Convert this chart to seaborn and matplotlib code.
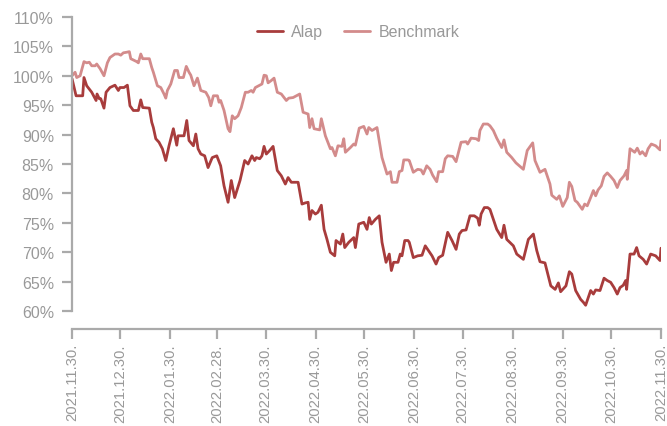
import pandas as pd
import matplotlib
matplotlib.use("Agg")
import matplotlib.pyplot as plt
from matplotlib.ticker import FuncFormatter
import seaborn as sns

# values (percent of start value), x as days since 2021.11.30
alap_days = [0, 2.5, 6.6, 7.4, 9.1, 12.2, 14.9, 15.5, 16.9, 17.8, 19.8, 21.1, 23.5, 26.6,
             28.7, 29.7, 32.2, 34.3, 35.9, 38.0, 41.1, 42.6, 43.8, 47.9, 49.4, 50.4, 51.9,
             53.9, 56.0, 58.1, 60.1, 62.8, 64.9, 65.7, 69.4, 71.1, 72.5, 75.2, 76.7, 78.1,
             79.8, 82.2, 84.3, 86.9, 89.7, 92.1, 94.2, 96.7, 98.7, 100.8, 104.1, 107.0,
             109.1, 111.5, 113.2, 114.2, 116.3, 117.7, 119.0, 120.4, 122.5, 124.6, 127.2,
             129.7, 132.2, 133.9, 135.9, 140.1, 142.5, 144.6, 146.3, 147.3, 148.7, 150.8,
             152.4, 154.5, 156.2, 158.0, 160.1, 162.8, 163.6, 166.3, 167.8, 169.0, 171.5,
             174.6, 175.6, 177.7, 180.8, 182.8, 184.2, 185.5, 188.0, 190.4, 192.1, 194.6,
             196.6, 197.9, 199.3, 202.0, 203.4, 204.5, 206.2, 208.2, 209.0, 211.5, 214.2,
             216.9, 218.9, 220.4, 223.1, 225.6, 227.2, 229.7, 231.8, 232.8, 235.5, 238.0,
             240.0, 241.7, 244.2, 246.6, 249.3, 251.4, 252.4, 253.5, 255.5, 257.6, 259.0,
             260.7, 263.2, 266.3, 267.7, 269.4, 273.5, 275.6, 279.7, 282.8, 285.9, 288.0,
             290.0, 293.1, 296.7, 299.4, 301.4, 302.8, 306.1, 308.2, 309.7, 312.1, 315.2,
             316.9, 318.3, 319.3, 321.4, 323.1, 324.5, 327.2, 329.7, 331.7, 333.8, 335.9,
             337.9, 339.6, 341.6, 343.1, 343.7, 345.8, 348.3, 349.9, 351.4, 354.0, 356.1,
             358.6, 361.7, 364.4, 365]
alap = [99.5, 96.6, 96.6, 99.7, 98.3, 97.2, 95.8, 96.9, 96.1, 96.1, 94.5, 97.2, 98.0, 98.4,
        97.5, 98.0, 98.0, 98.4, 94.9, 94.1, 94.1, 95.9, 94.6, 94.5, 92.1, 91.2, 89.3,
        88.7, 87.6, 85.6, 88.1, 91.0, 88.2, 89.8, 89.8, 92.4, 89.0, 88.1, 90.1, 87.6,
        86.7, 86.4, 84.4, 86.1, 86.4, 84.7, 81.3, 78.5, 82.2, 79.3, 82.2, 85.6,
        85.0, 86.4, 85.6, 86.1, 85.9, 86.4, 88.0, 86.7, 87.3, 88.0, 83.9,
        83.0, 81.6, 82.7, 81.9, 81.9, 78.2, 78.4, 78.5, 75.6, 77.1, 76.5,
        76.8, 78.0, 73.9, 72.2, 70.0, 69.4, 72.0, 71.4, 73.1, 70.8, 71.7,
        72.5, 70.8, 74.8, 75.1, 73.9, 75.9, 74.8, 75.6, 76.2, 71.7, 68.3,
        69.7, 66.9, 68.3, 68.3, 69.7, 69.4, 72.0, 72.0, 71.7, 69.1, 69.4,
        69.5, 71.1, 70.5, 69.4, 68.0, 69.1, 69.5, 72.2, 73.4, 72.0, 70.5,
        73.1, 73.7, 73.8, 76.2, 76.2, 75.8, 74.6, 76.5, 77.6, 77.6, 77.3,
        75.9, 73.9, 72.5, 74.6, 72.2, 71.1, 69.7, 68.8, 72.2, 73.1, 70.3,
        68.4, 68.2, 64.3, 63.7, 64.8, 63.3, 64.3, 66.7, 66.3, 63.5, 62.0,
        61.5, 61.0, 61.8, 63.5, 62.9, 63.6, 63.5, 65.6, 65.2, 64.9, 64.0,
        62.9, 64.0, 64.4, 65.2, 63.7, 69.7, 69.7, 70.8, 69.4, 68.8, 68.0,
        69.7, 69.4, 68.6, 70.7]

bench_days = [0, 1.9, 2.9, 5.0, 7.4, 9.1, 10.7, 12.2, 14.3, 15.3, 17.4, 19.8, 21.9, 23.5,
              26.6, 28.7, 30.2, 31.8, 33.9, 35.5, 36.4, 40.1, 41.1, 42.6, 43.8, 47.9, 49.4,
              50.4, 52.9, 55.0, 57.0, 58.1, 59.1, 61.2, 63.6, 65.3, 66.3, 69.0, 70.8, 72.5,
              73.6, 75.6, 77.7, 79.8, 82.9, 84.7, 86.0, 87.6, 90.1, 91.1, 92.1, 94.2, 96.7,
              97.9, 99.3, 100.8, 102.9, 104.9, 107.4, 109.1, 111.1, 112.2, 113.6, 116.3,
              117.7, 119.0, 120.4, 121.5, 123.5, 125.2, 127.2, 129.7, 132.8, 134.3, 137.0,
              141.1, 143.2, 146.3, 147.3, 148.7, 150.0, 153.5, 154.5, 157.0, 160.1, 161.1,
              163.2, 164.8, 167.3, 168.4, 169.4, 172.5, 174.6, 175.6, 178.0, 180.8, 182.8,
              183.9, 185.9, 189.0, 192.1, 195.2, 197.3, 198.3, 201.4, 202.8, 204.5, 205.6,
              208.2, 209.0, 211.5, 214.2, 216.3, 217.7, 219.8, 221.9, 223.5, 226.0, 227.2,
              229.7, 231.3, 232.8, 235.9, 238.0, 241.1, 244.2, 245.2, 247.3, 250.4, 252.0,
              252.8, 254.9, 257.6, 259.0, 260.3, 261.1, 263.2, 266.3, 267.7, 269.4, 272.5,
              275.1, 279.7, 282.1, 285.5, 286.9, 290.0, 293.1, 296.2, 297.3, 300.4, 302.0,
              304.1, 306.9, 308.2, 309.7, 311.7, 313.1, 316.2, 317.7, 319.3, 321.4, 323.1,
              324.5, 326.0, 328.0, 329.7, 331.7, 333.8, 335.9, 337.9, 339.6, 342.1, 343.7,
              344.1, 345.8, 347.3, 348.7, 350.3, 352.0, 353.4, 355.5, 357.0, 359.0, 361.7,
              364.4, 365]
benchmark = [100.0, 100.6, 99.7, 100.0, 102.4, 102.2, 102.3, 101.7, 101.7, 102.0, 101.2, 100.0, 102.2, 103.1,
             103.7, 103.7, 103.5, 103.9, 104.0, 104.1, 102.9, 102.4, 102.2, 103.7, 102.9, 102.9, 101.4,
             100.6, 98.3, 98.0, 96.9, 96.2, 97.5, 98.6, 100.9, 100.9, 99.7, 99.7, 101.6, 100.6,
             100.1, 98.3, 99.6, 97.5, 97.2, 96.3, 94.9, 96.6, 96.6, 95.5, 95.8, 94.1, 91.0,
             90.5, 93.2, 92.7, 93.2, 94.6, 97.2, 97.2, 97.5, 97.2, 98.0, 98.4,
             98.6, 100.1, 100.0, 98.8, 99.2, 99.6, 97.2, 96.9, 95.8, 96.2, 96.3,
             96.9, 93.8, 93.5, 91.2, 92.7, 91.0, 90.8, 92.7, 89.8, 87.6, 87.8,
             86.4, 88.1, 88.0, 89.3, 87.0, 87.8, 88.4, 88.2, 91.1, 91.4, 90.1,
             91.2, 90.7, 91.2, 86.1, 83.3, 83.7, 81.9, 81.9, 83.7, 83.9, 85.7,
             85.7, 85.6, 83.6, 84.1, 84.0, 83.3, 84.7, 84.1, 83.1, 82.0, 83.7,
             83.7, 85.9, 86.4, 86.3, 85.4, 88.7, 88.8, 88.4, 89.4, 89.3, 89.0,
             90.7, 91.8, 91.8, 91.5, 91.0, 90.7, 89.4, 87.8, 89.1, 87.0, 86.1,
             85.2, 84.1, 87.3, 88.6, 85.6, 83.6, 84.1, 81.6, 79.7, 79.0, 79.6,
             77.8, 79.3, 81.9, 81.2, 78.8, 78.5, 77.3, 78.2, 77.9, 79.3, 80.5,
             79.6, 80.6, 81.3, 82.9, 83.5, 82.9, 82.2, 81.0, 82.2, 83.0, 83.9,
             82.4, 87.6, 87.3, 87.0, 87.7, 86.7, 87.1, 86.4, 87.6, 88.4, 88.1,
             87.4, 89.0]

tick_labels = ["2021.11.30.", "2021.12.30.", "2022.01.30.", "2022.02.28.", "2022.03.30.",
               "2022.04.30.", "2022.05.30.", "2022.06.30.", "2022.07.30.", "2022.08.30.",
               "2022.09.30.", "2022.10.30.", "2022.11.30."]

start = pd.Timestamp("2021-11-30")
df = pd.concat([
    pd.DataFrame({"date": start + pd.to_timedelta(alap_days, unit="D"), "value": alap, "series": "Alap"}),
    pd.DataFrame({"date": start + pd.to_timedelta(bench_days, unit="D"), "value": benchmark, "series": "Benchmark"}),
])

sns.set_style("white")
plt.rcParams["font.family"] = ["Liberation Sans", "DejaVu Sans"]

grey = "#aaaaaa"
text_grey = "#999999"
colors = {"Alap": "#a83c3c", "Benchmark": "#d38b8b"}

fig = plt.figure(figsize=(6.67, 4.27), dpi=100)
ax = fig.add_axes([0.108, 0.269, 0.883, 0.689])
sns.lineplot(data=df, x="date", y="value", hue="series", palette=colors,
             linewidth=2.0, ax=ax, estimator=None, sort=False)

ax.set_ylim(60, 110)
ax.set_yticks(range(60, 111, 5))
ax.yaxis.set_major_formatter(FuncFormatter(lambda v, _: f"{v:.0f}%"))

tick_dates = pd.to_datetime(tick_labels, format="%Y.%m.%d.")
ax.set_xlim(tick_dates[0], tick_dates[-1])
ax.set_xticks(tick_dates)
ax.set_xticklabels(tick_labels)

ax.set_xlabel("")
ax.set_ylabel("")

for side in ["top", "right"]:
    ax.spines[side].set_visible(False)
for side in ["left", "bottom"]:
    ax.spines[side].set_visible(True)
    ax.spines[side].set_color(grey)
    ax.spines[side].set_linewidth(1.6)
ax.spines["bottom"].set_position(("outward", 13))

ax.tick_params(axis="both", bottom=True, left=True, colors=grey, labelcolor=text_grey,
               labelsize=11.5, length=7, width=1.6, direction="out")
ax.tick_params(axis="y", pad=6)
ax.tick_params(axis="x", pad=3, labelsize=10.6, labelrotation=90)

leg = ax.legend(loc="center", bbox_to_anchor=(0.486, 0.949), ncol=2, frameon=False,
                fontsize=11.5, handlelength=1.6, columnspacing=1.3, handletextpad=0.55)
for t in leg.get_texts():
    t.set_color(text_grey)

fig.savefig("out.png", dpi=100)
